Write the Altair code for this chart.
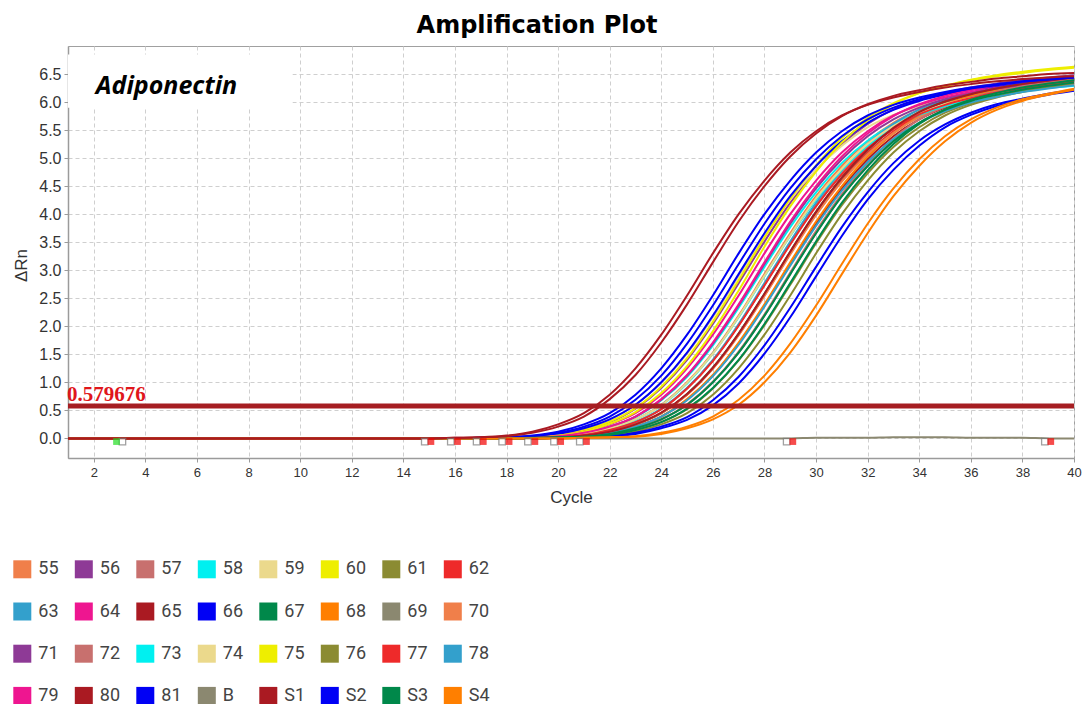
import altair as alt
import pandas as pd

# ---- axes ---------------------------------------------------------------
CYCLE_MIN, CYCLE_MAX = 1, 40
DRN_MIN, DRN_MAX = -0.35, 7.0
x_ticks = [2, 4, 6, 8, 10, 12, 14, 16, 18, 20, 22, 24, 26, 28, 30, 32, 34, 36, 38, 40]
y_ticks = [0.0, 0.5, 1.0, 1.5, 2.0, 2.5, 3.0, 3.5, 4.0, 4.5, 5.0, 5.5, 6.0, 6.5]
THRESHOLD = 0.579676
TARGET = "Adiponectin"

# ---- samples / colours (legend order) -----------------------------------
sample_names = ["55", "56", "57", "58", "59", "60", "61", "62",
                "63", "64", "65", "66", "67", "68", "69", "70",
                "71", "72", "73", "74", "75", "76", "77", "78",
                "79", "80", "81", "B", "S1", "S2", "S3", "S4"]
sample_colors = ["#F07F4A", "#8E3A96", "#C8706E", "#00F0F0", "#EBD98C", "#EEEE00", "#8B8B32", "#EE2A2A",
                 "#33A0CC", "#EE1690", "#AA1A22", "#0000F5", "#00884A", "#FF7F00", "#8B8870", "#F07F4A",
                 "#8E3A96", "#C8706E", "#00F0F0", "#EBD98C", "#EEEE00", "#8B8B32", "#EE2A2A", "#33A0CC",
                 "#EE1690", "#AA1A22", "#0000F5", "#8B8870", "#AA1A22", "#0000F5", "#00884A", "#FF7F00"]

# ---- ΔRn per cycle ------------------------------------------------------
cycles = list(range(CYCLE_MIN, CYCLE_MAX + 1))
# cycles 1-14: every amplified well still on the baseline
flat_1_14 = [0.00, 0.00, 0.00, 0.00, 0.00, 0.00, 0.00, 0.00, 0.00, 0.00, 0.00, 0.00, 0.00, 0.00]

# cycles 15-40 for each well
w55 = [0.00, 0.00, 0.00, 0.01, 0.02, 0.03, 0.08, 0.18, 0.34, 0.60, 1.00, 1.53, 2.19, 2.93, 3.66, 4.32, 4.86, 5.30, 5.63, 5.86, 6.02, 6.13, 6.22, 6.29, 6.35, 6.39]
w56 = [0.00, 0.00, 0.00, 0.01, 0.02, 0.06, 0.15, 0.29, 0.53, 0.90, 1.40, 2.04, 2.77, 3.51, 4.20, 4.78, 5.25, 5.61, 5.87, 6.04, 6.16, 6.26, 6.33, 6.39, 6.44, 6.48]
w57 = [0.00, 0.00, 0.00, 0.00, 0.01, 0.02, 0.06, 0.15, 0.29, 0.52, 0.89, 1.39, 2.02, 2.74, 3.48, 4.16, 4.73, 5.20, 5.55, 5.81, 5.98, 6.10, 6.20, 6.27, 6.33, 6.38]
w58 = [0.00, 0.00, 0.00, 0.01, 0.02, 0.04, 0.10, 0.21, 0.38, 0.68, 1.10, 1.66, 2.33, 3.06, 3.77, 4.39, 4.91, 5.31, 5.60, 5.81, 5.96, 6.06, 6.15, 6.21, 6.26, 6.30]
w59 = [0.00, 0.00, 0.01, 0.02, 0.03, 0.08, 0.18, 0.34, 0.60, 0.99, 1.51, 2.16, 2.89, 3.61, 4.26, 4.79, 5.22, 5.55, 5.77, 5.93, 6.04, 6.13, 6.20, 6.25, 6.29, 6.33]
w60 = [0.00, 0.00, 0.00, 0.01, 0.02, 0.06, 0.15, 0.30, 0.54, 0.92, 1.43, 2.08, 2.82, 3.58, 4.28, 4.87, 5.36, 5.72, 5.98, 6.16, 6.28, 6.39, 6.46, 6.52, 6.57, 6.61]
w61 = [0.00, 0.00, 0.00, 0.00, 0.00, 0.01, 0.02, 0.05, 0.12, 0.25, 0.45, 0.78, 1.25, 1.85, 2.55, 3.30, 4.00, 4.60, 5.10, 5.48, 5.76, 5.95, 6.08, 6.18, 6.26, 6.32]
w62 = [0.00, 0.00, 0.00, 0.00, 0.01, 0.02, 0.05, 0.12, 0.25, 0.45, 0.78, 1.25, 1.85, 2.55, 3.30, 4.00, 4.60, 5.10, 5.48, 5.76, 5.95, 6.08, 6.18, 6.26, 6.32, 6.37]
w63 = [0.00, 0.00, 0.00, 0.00, 0.01, 0.02, 0.06, 0.15, 0.29, 0.53, 0.90, 1.40, 2.04, 2.77, 3.51, 4.20, 4.78, 5.25, 5.61, 5.87, 6.04, 6.16, 6.26, 6.33, 6.39, 6.44]
w64 = [0.00, 0.00, 0.00, 0.01, 0.02, 0.05, 0.12, 0.25, 0.45, 0.78, 1.25, 1.85, 2.55, 3.30, 4.00, 4.60, 5.10, 5.48, 5.76, 5.95, 6.08, 6.18, 6.26, 6.32, 6.37, 6.41]
w65 = [0.00, 0.00, 0.00, 0.00, 0.01, 0.02, 0.04, 0.10, 0.21, 0.39, 0.69, 1.12, 1.69, 2.37, 3.11, 3.83, 4.46, 4.98, 5.39, 5.69, 5.90, 6.05, 6.15, 6.24, 6.30, 6.36]
w66 = [0.00, 0.00, 0.01, 0.02, 0.03, 0.08, 0.18, 0.34, 0.60, 1.00, 1.53, 2.19, 2.93, 3.66, 4.32, 4.86, 5.30, 5.63, 5.86, 6.02, 6.13, 6.22, 6.29, 6.35, 6.39, 6.43]
w67 = [0.00, 0.00, 0.00, 0.00, 0.01, 0.02, 0.05, 0.12, 0.25, 0.45, 0.79, 1.26, 1.87, 2.58, 3.33, 4.04, 4.65, 5.15, 5.53, 5.82, 6.01, 6.14, 6.24, 6.32, 6.38, 6.43]
w68 = [0.00, 0.00, 0.00, 0.00, 0.01, 0.02, 0.04, 0.10, 0.21, 0.39, 0.70, 1.13, 1.71, 2.39, 3.14, 3.87, 4.50, 5.03, 5.44, 5.75, 5.96, 6.11, 6.21, 6.30, 6.36, 6.42]
w69 = [0.00, 0.00, 0.00, 0.00, 0.01, 0.02, 0.03, 0.08, 0.18, 0.34, 0.60, 1.00, 1.53, 2.19, 2.93, 3.66, 4.32, 4.86, 5.30, 5.63, 5.86, 6.02, 6.13, 6.22, 6.29, 6.35]
w70 = [0.00, 0.00, 0.00, 0.00, 0.01, 0.02, 0.05, 0.12, 0.25, 0.45, 0.78, 1.24, 1.84, 2.54, 3.28, 3.98, 4.58, 5.07, 5.45, 5.73, 5.92, 6.05, 6.15, 6.23, 6.29, 6.34]
w71 = [0.00, 0.00, 0.00, 0.01, 0.02, 0.04, 0.10, 0.21, 0.39, 0.69, 1.12, 1.69, 2.37, 3.11, 3.83, 4.46, 4.98, 5.39, 5.69, 5.90, 6.05, 6.15, 6.24, 6.30, 6.36, 6.40]
w72 = [0.00, 0.00, 0.00, 0.00, 0.01, 0.02, 0.03, 0.08, 0.18, 0.34, 0.61, 1.01, 1.55, 2.21, 2.96, 3.70, 4.36, 4.91, 5.35, 5.69, 5.92, 6.08, 6.19, 6.28, 6.35, 6.41]
w73 = [0.00, 0.00, 0.00, 0.01, 0.02, 0.03, 0.08, 0.18, 0.33, 0.59, 0.98, 1.51, 2.16, 2.89, 3.61, 4.26, 4.79, 5.22, 5.55, 5.77, 5.93, 6.04, 6.13, 6.20, 6.25, 6.29]
w74 = [0.00, 0.00, 0.00, 0.01, 0.02, 0.03, 0.08, 0.18, 0.34, 0.59, 0.99, 1.51, 2.17, 2.90, 3.62, 4.28, 4.81, 5.25, 5.57, 5.80, 5.96, 6.07, 6.16, 6.23, 6.29, 6.33]
w75 = [0.00, 0.00, 0.00, 0.01, 0.02, 0.05, 0.12, 0.26, 0.47, 0.81, 1.29, 1.91, 2.64, 3.42, 4.14, 4.76, 5.28, 5.67, 5.96, 6.16, 6.29, 6.40, 6.48, 6.54, 6.59, 6.63]
w76 = [0.00, 0.00, 0.00, 0.00, 0.00, 0.01, 0.02, 0.06, 0.15, 0.29, 0.52, 0.89, 1.39, 2.02, 2.74, 3.48, 4.16, 4.73, 5.20, 5.55, 5.81, 5.98, 6.10, 6.20, 6.27, 6.33]
w77 = [0.00, 0.00, 0.00, 0.00, 0.01, 0.02, 0.06, 0.15, 0.29, 0.52, 0.89, 1.38, 2.01, 2.73, 3.46, 4.14, 4.71, 5.17, 5.52, 5.78, 5.95, 6.07, 6.17, 6.24, 6.30, 6.35]
w78 = [0.00, 0.00, 0.00, 0.00, 0.01, 0.02, 0.04, 0.10, 0.21, 0.39, 0.68, 1.11, 1.67, 2.35, 3.08, 3.79, 4.42, 4.93, 5.34, 5.63, 5.84, 5.99, 6.09, 6.18, 6.24, 6.30]
w79 = [0.00, 0.00, 0.00, 0.01, 0.02, 0.04, 0.10, 0.21, 0.39, 0.70, 1.13, 1.71, 2.39, 3.14, 3.87, 4.50, 5.03, 5.44, 5.75, 5.96, 6.11, 6.21, 6.30, 6.36, 6.42, 6.46]
w80 = [0.00, 0.00, 0.00, 0.00, 0.01, 0.02, 0.05, 0.12, 0.25, 0.46, 0.79, 1.26, 1.87, 2.58, 3.33, 4.04, 4.65, 5.15, 5.54, 5.82, 6.01, 6.14, 6.24, 6.32, 6.38, 6.44]
w81a = [0.00, 0.00, 0.00, 0.00, 0.00, 0.01, 0.02, 0.04, 0.10, 0.21, 0.38, 0.68, 1.10, 1.66, 2.33, 3.06, 3.77, 4.39, 4.91, 5.31, 5.60, 5.81, 5.96, 6.06, 6.15, 6.21]
w81b = [0.00, 0.00, 0.00, 0.00, 0.00, 0.01, 0.02, 0.03, 0.08, 0.18, 0.33, 0.59, 0.98, 1.51, 2.16, 2.89, 3.61, 4.26, 4.79, 5.22, 5.55, 5.77, 5.93, 6.04, 6.13, 6.20]
wS1a = [0.00, 0.01, 0.02, 0.05, 0.12, 0.25, 0.45, 0.78, 1.25, 1.85, 2.55, 3.30, 4.00, 4.60, 5.10, 5.48, 5.76, 5.95, 6.08, 6.18, 6.26, 6.32, 6.37, 6.41, 6.44, 6.46]
wS1b = [0.00, 0.01, 0.02, 0.04, 0.10, 0.21, 0.39, 0.70, 1.13, 1.71, 2.39, 3.14, 3.87, 4.50, 5.03, 5.44, 5.75, 5.96, 6.11, 6.21, 6.30, 6.36, 6.42, 6.46, 6.50, 6.52]
wS2a = [0.00, 0.00, 0.01, 0.02, 0.05, 0.12, 0.25, 0.45, 0.78, 1.25, 1.85, 2.55, 3.30, 4.00, 4.60, 5.10, 5.48, 5.76, 5.95, 6.08, 6.18, 6.26, 6.32, 6.37, 6.41, 6.44]
wS2b = [0.00, 0.00, 0.01, 0.02, 0.04, 0.10, 0.21, 0.39, 0.69, 1.12, 1.69, 2.37, 3.11, 3.83, 4.46, 4.98, 5.39, 5.69, 5.90, 6.05, 6.15, 6.24, 6.30, 6.36, 6.40, 6.44]
wS3a = [0.00, 0.00, 0.00, 0.00, 0.01, 0.02, 0.03, 0.08, 0.18, 0.34, 0.60, 1.00, 1.53, 2.19, 2.93, 3.66, 4.32, 4.86, 5.30, 5.63, 5.86, 6.02, 6.13, 6.22, 6.29, 6.35]
wS3b = [0.00, 0.00, 0.00, 0.00, 0.00, 0.01, 0.02, 0.06, 0.15, 0.29, 0.53, 0.90, 1.40, 2.04, 2.77, 3.51, 4.20, 4.78, 5.25, 5.61, 5.87, 6.04, 6.16, 6.26, 6.33, 6.39]
wS4a = [0.00, 0.00, 0.00, 0.00, 0.00, 0.00, 0.01, 0.02, 0.04, 0.10, 0.21, 0.39, 0.69, 1.12, 1.69, 2.37, 3.11, 3.83, 4.46, 4.98, 5.39, 5.69, 5.90, 6.05, 6.15, 6.24]
wS4b = [0.00, 0.00, 0.00, 0.00, 0.00, 0.00, 0.01, 0.02, 0.03, 0.08, 0.18, 0.34, 0.60, 1.00, 1.53, 2.19, 2.93, 3.66, 4.32, 4.86, 5.30, 5.63, 5.86, 6.02, 6.13, 6.22]

# blank well, cycles 1-40
wB = [0.00, 0.00, 0.00, 0.00, 0.00, 0.00, 0.00, 0.00, 0.00, 0.00,
      0.00, 0.00, 0.00, 0.00, 0.00, 0.00, 0.00, 0.00, 0.00, 0.00,
      0.00, 0.00, 0.00, 0.00, 0.00, 0.00, 0.00, 0.00, 0.00, 0.01,
      0.01, 0.01, 0.02, 0.02, 0.02, 0.01, 0.01, 0.01, 0.00, 0.00]

# baseline start / end flags drawn under the zero line
flag_level = -0.057
flag_open_cycles = [3.11, 14.83, 15.84, 16.84, 17.83, 18.83, 19.84, 20.84, 28.86, 38.87]
flag_red_cycles = [15.07, 16.10, 17.10, 18.10, 19.10, 20.10, 21.10, 29.10, 39.10]
flag_green_cycles = [2.88]

# white panel behind the target name
label_box = {"x": 1.0, "x2": 9.7, "y": 5.9, "y2": 6.85}
label_pos = {"x": 2.08, "y": 6.14}

# ---- long table -----------------------------------------------------------
wells = [
    ("55", "55", w55), ("56", "56", w56), ("57", "57", w57), ("58", "58", w58),
    ("59", "59", w59), ("60", "60", w60), ("61", "61", w61), ("62", "62", w62),
    ("63", "63", w63), ("64", "64", w64), ("65", "65", w65), ("66", "66", w66),
    ("67", "67", w67), ("68", "68", w68), ("69", "69", w69), ("70", "70", w70),
    ("71", "71", w71), ("72", "72", w72), ("73", "73", w73), ("74", "74", w74),
    ("75", "75", w75), ("76", "76", w76), ("77", "77", w77), ("78", "78", w78),
    ("79", "79", w79), ("80", "80", w80), ("81a", "81", w81a), ("81b", "81", w81b),
    ("S2a", "S2", wS2a), ("S2b", "S2", wS2b), ("S3a", "S3", wS3a), ("S3b", "S3", wS3b),
    ("S4a", "S4", wS4a), ("S4b", "S4", wS4b), ("S1a", "S1", wS1a), ("S1b", "S1", wS1b),
]
rows = []
for c, v in zip(cycles, wB):
    rows.append({"well": "B", "sample": "B", "cycle": c, "value": v, "top": False})
for well, sample, vals in wells:
    full = flat_1_14 + vals
    assert len(full) == len(cycles), well
    for c, v in zip(cycles, full):
        rows.append({"well": well, "sample": sample, "cycle": c, "value": v, "top": sample == "S1"})
curves = pd.DataFrame(rows)

flags = pd.DataFrame(
    [{"cycle": c, "kind": "open"} for c in flag_open_cycles]
    + [{"cycle": c, "kind": "green"} for c in flag_green_cycles]
    + [{"cycle": c, "kind": "red"} for c in flag_red_cycles]
)
flags["level"] = flag_level

# ---- scales and axes, shared by every layer ---------------------------------
x_scale = alt.Scale(domain=[CYCLE_MIN, CYCLE_MAX], nice=False, zero=False)
y_scale = alt.Scale(domain=[DRN_MIN, DRN_MAX], nice=False, zero=False)
color_scale = alt.Scale(domain=sample_names, range=sample_colors)

axis_style = dict(grid=True, gridColor="#cfcfcf", gridDash=[4, 3], gridWidth=1,
                  domainColor="#9b9b9b", domainWidth=1.5, tickColor="#9b9b9b", tickSize=4,
                  labelFont="Liberation Sans", titleFont="Liberation Sans",
                  labelColor="#333333", titleColor="#333333", titleFontWeight="normal",
                  labelOverlap=False, labelBound=False)
x_axis = alt.Axis(values=x_ticks, format="d", title="Cycle", labelFontSize=13,
                  titleFontSize=17, labelPadding=4, labelFlush=False,
                  titleY=31, titleBaseline="top", **axis_style)
y_axis = alt.Axis(values=y_ticks, format=".1f", title="ΔRn", labelFontSize=16,
                  titleFontSize=17, labelPadding=3, titleX=-38, titleY=219,
                  titleAlign="center", **axis_style)


def X(field):
    return alt.X(field, type="quantitative", scale=x_scale, axis=x_axis)


def Y(field):
    return alt.Y(field, type="quantitative", scale=y_scale, axis=y_axis)


base = alt.Chart(curves)

panel = alt.Chart(pd.DataFrame([label_box])).mark_rect(color="white").encode(
    x=X("x"), x2="x2:Q", y=Y("y"), y2="y2:Q",
)

stroke_enc = alt.Stroke("sample:N", scale=color_scale, legend=None)

lines_main = base.transform_filter("!datum.top").mark_line(
    strokeWidth=2, interpolate="monotone").encode(
    x=X("cycle"), y=Y("value"), stroke=stroke_enc, detail="well:N")

lines_top = base.transform_filter("datum.top").mark_line(
    strokeWidth=2, interpolate="monotone").encode(
    x=X("cycle"), y=Y("value"), stroke=stroke_enc, detail="well:N")

threshold_rule = alt.Chart(pd.DataFrame({"t": [THRESHOLD]})).mark_rule(
    color="#A61E22", strokeWidth=5).encode(y=Y("t"))

threshold_text = alt.Chart(pd.DataFrame({"t": [THRESHOLD], "c": [CYCLE_MIN]})).mark_text(
    align="left", baseline="alphabetic", dx=-1, dy=-5,
    font="Liberation Serif", fontWeight="bold", fontSize=21, color="#E0161B").encode(
    x=X("c"), y=Y("t"), text=alt.value(f"{THRESHOLD:.6f}"))

flag_open = alt.Chart(flags).transform_filter("datum.kind == 'open'").mark_square(
    size=42, filled=True, fill="white", stroke="#7a7a7a", strokeWidth=1.3).encode(
    x=X("cycle"), y=Y("level"))
flag_green = alt.Chart(flags).transform_filter("datum.kind == 'green'").mark_square(
    size=45, filled=True, color="#22DD22").encode(x=X("cycle"), y=Y("level"))
flag_red = alt.Chart(flags).transform_filter("datum.kind == 'red'").mark_square(
    size=45, filled=True, color="#F20000").encode(x=X("cycle"), y=Y("level"))

target_text = alt.Chart(pd.DataFrame([label_pos])).mark_text(
    align="left", baseline="alphabetic", font="Open Sans", fontStyle="italic",
    fontWeight="bold", fontSize=25, color="black").encode(
    x=X("x"), y=Y("y"), text=alt.value(TARGET))

# filled swatches for the sample key (the points themselves are size 0)
legend_swatches = alt.Chart(pd.DataFrame({"sample": sample_names})).mark_square(
    size=0, filled=True).encode(
    fill=alt.Fill("sample:N", scale=color_scale, sort=sample_names,
                  legend=alt.Legend(title=None, orient="none", legendX=-54.7, legendY=514.3,
                                    direction="horizontal", columns=8, symbolLimit=64,
                                    symbolType="square", symbolSize=324,
                                    symbolStrokeWidth=0, symbolOpacity=1,
                                    labelFont="Roboto", labelFontSize=18, labelColor="#444444",
                                    labelOffset=7, columnPadding=15.5, rowPadding=24.2,
                                    gridAlign="all", padding=0)))

chart = alt.layer(
    panel, lines_main, lines_top, threshold_rule, threshold_text,
    flag_open, flag_green, flag_red, target_text, legend_swatches,
).resolve_scale(stroke="shared", fill="independent").properties(
    width=1006, height=412, background="white",
    title=alt.TitleParams("Amplification Plot", font="DejaVu Sans", fontSize=24,
                          fontWeight="bold", color="black", anchor="middle",
                          frame="group", dx=-34, dy=24, offset=13, baseline="alphabetic"),
    autosize=alt.AutoSizeParams(type="none"),
    padding={"left": 68, "top": 46, "right": 11, "bottom": 246},
).configure_axis(
    labelOverlap=False,
).configure_view(stroke="#a0a0a0", strokeWidth=1)

chart.save("out.html", embed_options={"renderer": "svg", "actions": False})
